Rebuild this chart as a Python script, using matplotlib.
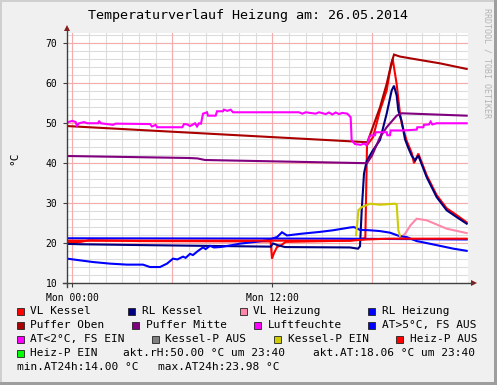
# -*- coding: utf-8 -*-

import matplotlib
matplotlib.use("Agg")
import matplotlib.pyplot as plt
from matplotlib.patches import Rectangle, Polygon
from matplotlib.lines import Line2D

W, H = 497, 385

plt.rcParams["font.family"] = ["DejaVu Sans Mono"]

TITLE = "Temperaturverlauf Heizung am: 26.05.2014"

# x values are hours relative to Mon 00:00, y values in degC / %
vl_kessel_h = [-0.32, 0.5, 1.0, 4.0, 11.9, 11.98, 12.1, 12.28, 12.58, 12.8, 16.66,
               17.3, 17.58, 17.68, 18.04, 18.46, 18.86, 19.06, 19.22, 19.46, 19.66,
               19.76, 20.06, 20.36, 20.5, 20.76, 21.26, 21.86, 22.46, 23.06, 23.66]
vl_kessel_v = [20.2, 20.3, 20.7, 20.5, 20.4, 16.1, 17.5, 19.0, 19.6, 20.3, 20.6,
               21.0, 21.3, 44.5, 46.5, 53.2, 58.2, 63.2, 66.1, 59.8, 52.4,
               50.0, 45.6, 42.6, 40.0, 42.4, 37.0, 32.0, 28.7, 27.0, 25.2]

rl_kessel_h = [-0.32, 0.5, 4.0, 11.9, 12.04, 12.3, 12.76, 16.66, 17.14, 17.26, 17.36,
               17.5, 17.66, 18.0, 18.46, 18.86, 19.16, 19.3, 19.46, 19.56, 19.76,
               19.96, 20.16, 20.36, 20.56, 20.76, 21.26, 21.86, 22.46, 23.06, 23.66]
rl_kessel_v = [19.8, 19.7, 19.5, 19.1, 19.9, 19.5, 19.0, 18.9, 18.6, 19.2, 28.0,
               37.4, 40.5, 43.0, 45.8, 52.4, 58.2, 59.4, 56.9, 53.2, 50.5,
               46.0, 43.8, 41.9, 40.7, 41.9, 36.5, 31.5, 28.2, 26.5, 24.85]

vl_heizung_h = [19.66, 19.96, 20.3, 20.66, 21.26, 22.46, 23.66]
vl_heizung_v = [21.3, 22.3, 24.5, 26.1, 25.7, 23.6, 22.5]

rl_heizung_h = [-0.32, 16.0, 20.0, 23.66]
rl_heizung_v = [21.2, 21.1, 21.0, 20.9]

puffer_oben_h = [-0.32, 17.7, 18.46, 18.86, 19.16, 19.3, 19.66, 21.06, 22.06, 23.66]
puffer_oben_v = [49.3, 45.25, 54.0, 59.85, 65.25, 67.2, 66.7, 65.7, 65.0, 63.6]

puffer_mitte_h = [-0.32, 7.0, 7.5, 7.96, 17.68, 17.98, 18.46, 18.86, 19.46, 19.76, 23.66]
puffer_mitte_v = [41.8, 41.3, 41.2, 40.8, 40.0, 41.9, 46.5, 49.0, 51.9, 52.5, 51.9]

luftfeuchte_h = [-0.32, 0.0, 0.2, 0.28, 0.4, 0.7, 0.9, 1.55, 1.6, 1.7, 2.44, 2.6,
                 4.66, 4.78, 5.0, 5.08, 6.6, 6.7, 6.9, 7.06, 7.2, 7.36, 7.48, 7.6,
                 7.72, 7.84, 8.08, 8.14, 8.6, 8.68, 9.04, 9.1, 9.3, 9.5, 9.64,
                 13.6, 13.8, 14.0, 14.6, 14.8, 15.2, 15.4, 15.6, 15.8, 16.0, 16.2,
                 16.5, 16.7, 16.76, 16.96, 17.3, 17.5, 17.66, 17.86, 18.16, 18.2,
                 18.86, 18.9, 19.06, 19.1, 19.86, 20.66, 20.7, 21.06, 21.1, 21.4,
                 21.5, 21.6, 21.86, 23.66]
luftfeuchte_v = [50.2, 50.6, 50.3, 49.4, 50.0, 50.3, 50.0, 50.0, 50.6, 50.0, 49.6, 49.9,
                 49.8, 49.2, 49.6, 49.0, 49.0, 49.8, 49.7, 49.3, 49.6, 50.0, 49.2, 50.0,
                 49.9, 52.4, 52.75, 51.9, 51.9, 53.0, 53.0, 53.4, 53.1, 53.4, 52.75,
                 52.75, 52.4, 52.75, 52.4, 52.75, 52.3, 52.7, 52.2, 52.7, 52.3, 52.6,
                 52.4, 51.5, 45.7, 44.8, 44.6, 44.9, 44.5, 46.9, 47.0, 47.75,
                 47.75, 47.0, 47.0, 48.2, 48.2, 48.4, 49.0, 49.0, 49.6, 49.7,
                 50.4, 49.7, 50.0, 50.0]

aussen_h = [-0.32, 1.24, 2.26, 3.28, 4.24, 4.66, 5.26, 5.68, 6.04, 6.3, 6.64, 6.8,
            7.06, 7.24, 7.5, 7.66, 7.84, 8.0, 8.26, 8.5, 8.86, 9.04, 9.6, 10.06,
            11.0, 11.68, 12.04, 12.28, 12.58, 12.88, 13.66, 14.86, 15.64, 16.66,
            16.9, 17.26, 17.86, 18.46, 19.06, 19.66, 20.06, 20.66, 21.26, 22.06,
            22.86, 23.66]
aussen_v = [16.1, 15.25, 14.85, 14.6, 14.6, 14.0, 14.0, 14.85, 16.1, 15.9, 16.6, 16.3,
            17.3, 17.0, 17.9, 18.4, 18.9, 18.5, 19.3, 18.9, 19.0, 19.1, 19.5, 19.85,
            20.3, 20.7, 21.2, 21.5, 22.7, 21.9, 22.3, 22.8, 23.2, 23.9,
            24.0, 23.3, 23.2, 23.0, 22.6, 21.7, 21.5, 20.5, 20.0, 19.3,
            18.6, 18.06]

kessel_p_ein_h = [17.02, 17.1, 17.16, 17.36, 17.86, 18.46, 19.36, 19.46, 19.56, 19.66]
kessel_p_ein_v = [22.0, 25.0, 28.2, 29.0, 29.85, 29.6, 29.85, 29.7, 23.2, 21.8]

heiz_p_aus_h = [-0.32, 16.66, 17.66, 19.0, 23.66]
heiz_p_aus_v = [20.6, 20.6, 20.9, 21.1, 21.1]

COLORS = {
    "VL Kessel": "#ff0000",
    "RL Kessel": "#000080",
    "VL Heizung": "#ff88aa",
    "RL Heizung": "#0000ff",
    "Puffer Oben": "#aa0000",
    "Puffer Mitte": "#800080",
    "Luftfeuchte": "#ff00ff",
    "AT>5°C, FS AUS": "#0000ff",
    "AT<2°C, FS EIN": "#ff00ff",
    "Kessel-P AUS": "#808080",
    "Kessel-P EIN": "#cccc00",
    "Heiz-P AUS": "#ff0000",
    "Heiz-P EIN": "#00ff00",
}

SERIES = [
    ("VL Kessel", vl_kessel_h, vl_kessel_v),
    ("RL Kessel", rl_kessel_h, rl_kessel_v),
    ("VL Heizung", vl_heizung_h, vl_heizung_v),
    ("RL Heizung", rl_heizung_h, rl_heizung_v),
    ("Puffer Oben", puffer_oben_h, puffer_oben_v),
    ("Puffer Mitte", puffer_mitte_h, puffer_mitte_v),
    ("Luftfeuchte", luftfeuchte_h, luftfeuchte_v),
    ("AT>5°C, FS AUS", aussen_h, aussen_v),
    ("Kessel-P EIN", kessel_p_ein_h, kessel_p_ein_v),
    ("Heiz-P AUS", heiz_p_aus_h, heiz_p_aus_v),
]

# legend rows: (row y, swatch x, label)
LEGEND = [
    (311, 16.7, "VL Kessel"), (311, 128.3, "RL Kessel"),
    (311, 240.0, "VL Heizung"), (311, 368.3, "RL Heizung"),
    (325, 16.7, "Puffer Oben"), (325, 132.3, "Puffer Mitte"),
    (325, 254.3, "Luftfeuchte"), (325, 368.3, "AT>5°C, FS AUS"),
    (339, 16.7, "AT<2°C, FS EIN"), (339, 151.7, "Kessel-P AUS"),
    (339, 274.0, "Kessel-P EIN"), (339, 396.0, "Heiz-P AUS"),
    (353, 16.7, "Heiz-P EIN"),
]
INFO = [
    (353, 122.7, "akt.rH:50.00 °C um 23:40"),
    (353, 313.3, "akt.AT:18.06 °C um 23:40"),
    (367, 16.7, "min.AT24h:14.00 °C"),
    (367, 158.3, "max.AT24h:23.98 °C"),
]


def px(x, y):
    return x / W, 1 - y / H


fig = plt.figure(figsize=(W / 100, H / 100), dpi=100, facecolor="#f0f0f0")

# frame shading
fig.add_artist(Rectangle(px(0, 385), 2 / W, 1, transform=fig.transFigure, color="#cfcfcf", lw=0))
fig.add_artist(Rectangle(px(0, 2), 1, 2 / H, transform=fig.transFigure, color="#cfcfcf", lw=0))
fig.add_artist(Rectangle(px(494, 385), 3 / W, 1, transform=fig.transFigure, color="#9e9e9e", lw=0))
fig.add_artist(Rectangle(px(0, 385), 1, 3 / H, transform=fig.transFigure, color="#9e9e9e", lw=0))

ax = fig.add_axes([67 / W, (H - 283) / H, 401 / W, 250 / H])
ax.set_facecolor("white")
ax.set_xlim(-0.32, 23.74)
ax.set_ylim(10, 72.6)

for h in range(0, 24):
    ax.axvline(h, color="#dcdcdc", lw=0.8, zorder=0)
for v in range(12, 73, 2):
    ax.axhline(v, color="#dcdcdc", lw=0.8, zorder=0)
for h in [0, 6, 12, 18]:
    ax.axvline(h, color="#f4acac", lw=0.8, zorder=1)
for v in range(20, 71, 10):
    ax.axhline(v, color="#f4acac", lw=0.8, zorder=1)

for i, (name, hx, vy) in enumerate(SERIES):
    ax.plot(hx, vy, color=COLORS[name], lw=1.5, zorder=3 + i * 0.1,
            solid_joinstyle="miter")

for side in ["top", "right", "left", "bottom"]:
    ax.spines[side].set_visible(False)

ax.set_yticks(range(10, 71, 10))
ax.set_yticklabels([str(v) for v in range(10, 71, 10)], fontsize=7)
ax.set_xticks([0, 12])
ax.set_xticklabels(["Mon 00:00", "Mon 12:00"], fontsize=7)
ax.tick_params(axis="both", length=3, width=0.8, color="#404040", pad=4)

# axes with arrows
fig.add_artist(Line2D([67 / W, 67 / W], [1 - 287 / H, 1 - 29 / H],
                      transform=fig.transFigure, color="#404040", lw=1))
fig.add_artist(Line2D([63 / W, 473 / W], [1 - 283 / H, 1 - 283 / H],
                      transform=fig.transFigure, color="#404040", lw=1))
fig.add_artist(Polygon([px(64, 31), px(70, 31), px(67, 25)], closed=True,
                       transform=fig.transFigure, color="#8b1a1a", lw=0))
fig.add_artist(Polygon([px(471, 280), px(471, 286), px(477, 283)], closed=True,
                       transform=fig.transFigure, color="#8b1a1a", lw=0))

fig.text(247.7 / W, 1 - 16 / H, TITLE, ha="center", va="center", fontsize=9.6)
fig.text(14 / W, 1 - 158 / H, "°C", rotation=90, ha="center", va="center", fontsize=8)
fig.text(487 / W, 1 - 8 / H, "RRDTOOL / TOBI OETIKER", rotation=270,
         ha="center", va="top", fontsize=6, color="#b4b4b4")

for y, x, label in LEGEND:
    fig.add_artist(Rectangle(px(x, y + 3.5), 7 / W, 7 / H, transform=fig.transFigure,
                             facecolor=COLORS[label], edgecolor="#222222", lw=0.6))
    fig.text((x + 13.5) / W, 1 - y / H, label, ha="left", va="center", fontsize=8)

for y, x, text in INFO:
    fig.text(x / W, 1 - y / H, text, ha="left", va="center", fontsize=8)

fig.savefig("out.png", dpi=100, facecolor=fig.get_facecolor())
